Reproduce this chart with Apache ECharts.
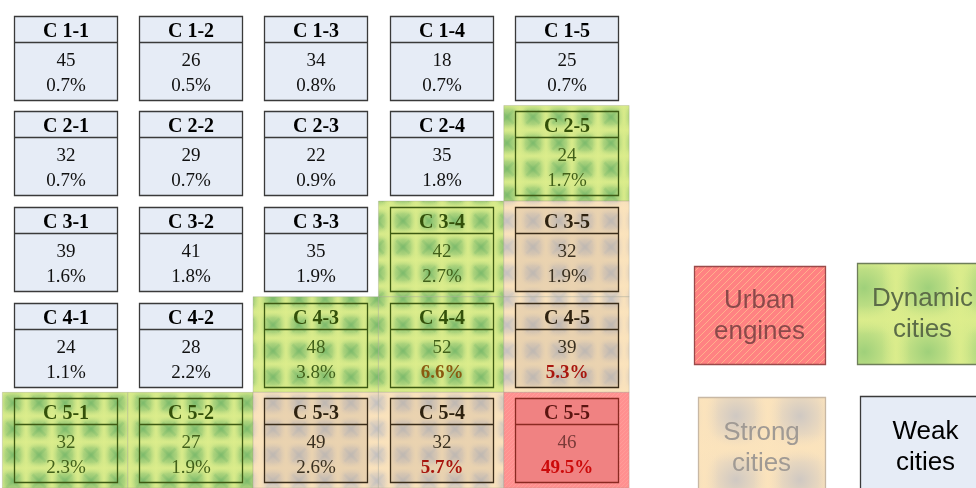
<!DOCTYPE html>
<html><head><meta charset="utf-8">
<script src="https://cdn.jsdelivr.net/npm/echarts@6/dist/echarts.min.js"></script>
<style>html,body{margin:0;padding:0;background:#fff}#c{width:976px;height:488px}</style>
</head><body><div id="c"></div>
<script>
// ---------------- data ----------------
const rowIds = [1, 2, 3, 4, 5];
const colIds = [1, 2, 3, 4, 5];
const counts = [
  [45, 26, 34, 18, 25],
  [32, 29, 22, 35, 24],
  [39, 41, 35, 42, 32],
  [24, 28, 48, 52, 39],
  [32, 27, 49, 32, 46]
];
const shares = [
  [0.7, 0.5, 0.8, 0.7, 0.7],
  [0.7, 0.7, 0.9, 1.8, 1.7],
  [1.6, 1.8, 1.9, 2.7, 1.9],
  [1.1, 2.2, 3.8, 6.6, 5.3],
  [2.3, 1.9, 2.6, 5.7, 49.5]
];
const classes = [
  ['W', 'W', 'W', 'W', 'W'],
  ['W', 'W', 'W', 'W', 'D'],
  ['W', 'W', 'W', 'D', 'S'],
  ['W', 'W', 'D', 'D', 'S'],
  ['D', 'D', 'S', 'S', 'U']
];
const legendNames = ['Urban\nengines', 'Dynamic\ncities', 'Strong\ncities', 'Weak\ncities'];
const legendClasses = ['U', 'D', 'S', 'W'];

// ---------------- textures ----------------
function rgba(c, a) { return 'rgba(' + c[0] + ',' + c[1] + ',' + c[2] + ',' + a + ')'; }
function blotchTile(size, base, spot, spotA, band, bandA, crossA) {
  const cv = document.createElement('canvas');
  cv.width = cv.height = size;
  const g = cv.getContext('2d');
  g.fillStyle = base; g.fillRect(0, 0, size, size);
  const h = size / 2;
  const rg = g.createRadialGradient(h, h, 0, h, h, h);
  rg.addColorStop(0, rgba(spot, spotA)); rg.addColorStop(1, rgba(spot, 0));
  g.fillStyle = rg; g.fillRect(0, 0, size, size);
  if (crossA > 0) {
    g.strokeStyle = rgba(spot, crossA); g.lineWidth = size * 0.1;
    g.beginPath();
    g.moveTo(size * 0.25, size * 0.25); g.lineTo(size * 0.75, size * 0.75);
    g.moveTo(size * 0.75, size * 0.25); g.lineTo(size * 0.25, size * 0.75);
    g.stroke();
  }
  const bw = size * 0.22;
  const edges = [[0, 0, bw, 0, 0, 0, bw, size], [size, 0, size - bw, 0, size - bw, 0, bw, size],
                 [0, 0, 0, bw, 0, 0, size, bw], [0, size, 0, size - bw, 0, size - bw, size, bw]];
  edges.forEach(e => {
    const lg = g.createLinearGradient(e[0], e[1], e[2], e[3]);
    lg.addColorStop(0, rgba(band, bandA)); lg.addColorStop(1, rgba(band, 0));
    g.fillStyle = lg; g.fillRect(e[4], e[5], e[6], e[7]);
  });
  return { image: cv, repeat: 'repeat' };
}
function hatchTile(size, base, line) {
  const cv = document.createElement('canvas');
  cv.width = cv.height = size;
  const g = cv.getContext('2d');
  g.fillStyle = base; g.fillRect(0, 0, size, size);
  g.strokeStyle = line; g.lineWidth = 1;
  g.beginPath();
  g.moveTo(0, size); g.lineTo(size, 0);
  g.moveTo(-1, 1); g.lineTo(1, -1);
  g.moveTo(size - 1, size + 1); g.lineTo(size + 1, size - 1);
  g.stroke();
  return { image: cv, repeat: 'repeat' };
}

const greenPat = blotchTile(26, '#c9e386', [85, 165, 95], 0.6, [222, 238, 140], 0.7, 0.15);
const tanPat = blotchTile(26, '#f3ddbc', [160, 170, 195], 0.5, [252, 228, 188], 0.7, 0.12);
const redPat = hatchTile(4, '#ff9090', '#ff9c98');
const greenPatL = blotchTile(64, '#d2e88a', [125, 192, 112], 0.6, [222, 238, 140], 0.7, 0);
const tanPatL = blotchTile(64, '#f8e1bd', [180, 184, 198], 0.6, [252, 228, 188], 0.7, 0);
const redPatL = hatchTile(7, '#ff8282', '#ffb08c');

const STY = {
  W: { region: null, box: '#e6ecf6', border: '#3a3a3a', head: '#000', val: '#111', pct: '#111', pctBold: '#111' },
  D: { region: greenPat, box: 'rgba(0,0,0,0)', border: '#3d5a12', head: '#33500a', val: '#42601a', pct: '#42601a', pctBold: '#8a5a10' },
  S: { region: tanPat, box: 'rgba(170,150,130,0.2)', border: '#3a2c18', head: '#2e2210', val: '#3a3020', pct: '#3a3020', pctBold: '#a8160e' },
  U: { region: redPat, box: '#f08282', border: '#8a2a22', head: '#5a1410', val: '#7a3a38', pct: '#7a3a38', pctBold: '#cc0a0a' }
};
const LEG = {
  U: { fill: redPatL, border: '#9a4a4a', text: '#8a4a4a' },
  D: { fill: greenPatL, border: '#6e7e5a', text: '#5c6c48' },
  S: { fill: tanPatL, border: '#c8b8a4', text: '#a09a94' },
  W: { fill: '#e6ecf6', border: '#3a3a3a', text: '#000' }
};

// ---------------- series data ----------------
const cells = [];
rowIds.forEach((r, i) => colIds.forEach((c, j) => {
  cells.push([c, r, counts[i][j], shares[i][j], classes[i][j]]);
}));

function renderRegion(params, api) {
  const c = api.value(0), r = api.value(1);
  const cls = cells[params.dataIndex][4];
  const st = STY[cls];
  if (!st.region) return null;
  const p = api.coord([c, r]);
  const s = api.size([1, 1]);
  return {
    type: 'rect',
    shape: { x: p[0] - s[0] / 2, y: p[1] - s[1] / 2, width: s[0], height: s[1] },
    style: { fill: st.region, stroke: 'rgba(150,150,130,0.3)', lineWidth: 1 }
  };
}

const SERIF = '"Liberation Serif","Times New Roman",serif';
function txt(x, y, text, fill, font) {
  return { type: 'text', x: x, y: y,
    style: { text: text, fill: fill, font: font, align: 'center', verticalAlign: 'middle',
             textAlign: 'center', textVerticalAlign: 'middle' } };
}
function renderBox(params, api) {
  const d = cells[params.dataIndex];
  const st = STY[d[4]];
  const p = api.coord([api.value(0), api.value(1)]);
  const w = 103, h = 84, hh = 26;
  const x0 = Math.round(p[0] - w / 2) + 0.5, y0 = Math.round(p[1] - h / 2) + 0.5;
  const bold = d[3] >= 5;
  return {
    type: 'group',
    children: [
      { type: 'rect', shape: { x: x0, y: y0, width: w, height: h },
        style: { fill: st.box, stroke: st.border, lineWidth: 1.3 } },
      { type: 'line', shape: { x1: x0, y1: y0 + hh, x2: x0 + w, y2: y0 + hh },
        style: { stroke: st.border, lineWidth: 1.3 } },
      txt(x0 + w / 2, y0 + 15, 'C ' + d[1] + '-' + d[0], st.head, 'bold 20px ' + SERIF),
      txt(x0 + w / 2, y0 + 45, String(d[2]), st.val, '19px ' + SERIF),
      txt(x0 + w / 2, y0 + 70, d[3].toFixed(1) + '%', bold ? st.pctBold : st.pct,
          (bold ? 'bold ' : '') + '19px ' + SERIF)
    ]
  };
}

// ---------------- legend (graphic) ----------------
const legBoxes = [
  { x: 694, y: 266, w: 131, h: 98 },
  { x: 857, y: 263, w: 131, h: 101 },
  { x: 698, y: 397, w: 127, h: 100 },
  { x: 860, y: 396, w: 131, h: 100 }
];
const graphics = [];
legendClasses.forEach((cls, i) => {
  const b = legBoxes[i], st = LEG[cls];
  graphics.push({ type: 'rect', shape: { x: b.x + 0.5, y: b.y + 0.5, width: b.w, height: b.h },
    style: { fill: st.fill, stroke: st.border, lineWidth: 1.3 } });
  graphics.push({ type: 'text', x: b.x + b.w / 2, y: b.y + b.h / 2 + 1,
    style: { text: legendNames[i], fill: st.text, font: '26px "Liberation Sans",Arial,sans-serif',
             align: 'center', verticalAlign: 'middle', textAlign: 'center', textVerticalAlign: 'middle',
             lineHeight: 31 } });
});

const chart = echarts.init(document.getElementById('c'), null, { renderer: 'canvas' });
chart.setOption({
  animation: false,
  backgroundColor: '#fff',
  grid: { left: 2.4, top: 9.85, width: 626.75, height: 480.5, containLabel: false },
  xAxis: { type: 'value', min: 0.5, max: 5.5, show: false },
  yAxis: { type: 'value', min: 0.5, max: 5.5, inverse: true, show: false },
  series: [
    { type: 'custom', renderItem: renderRegion, data: cells, encode: { x: 0, y: 1 }, clip: false, z: 1, silent: true },
    { type: 'custom', renderItem: renderBox, data: cells, encode: { x: 0, y: 1 }, clip: false, z: 2, silent: true }
  ],
  graphic: { elements: graphics }
});
</script>
</body></html>
